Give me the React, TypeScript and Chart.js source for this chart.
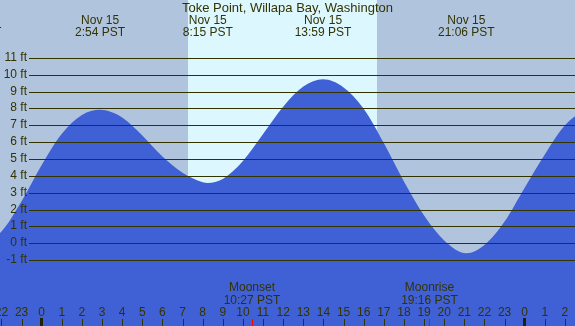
import React, { useEffect, useRef } from "react";
import { Chart, registerables } from "chart.js";

Chart.register(...registerables);

const TITLE = "Toke Point, Willapa Bay, Washington";

// tide curve samples (hours from midnight Nov 15, feet)
const tideHours = [-4, -3.4, -3, -2, -1, 0, 1, 2, 2.9, 4, 5, 6, 7, 8, 8.25, 9, 10, 11, 12, 13, 13.98, 15, 16, 17, 18, 19, 20, 21.1, 22, 23, 24, 25, 26, 27, 27.8, 29];
const tideFeet = [-0.1, -0.3, -0.15, 0.7, 2.5, 4.65, 6.5, 7.62, 7.93, 7.47, 6.4, 5.15, 4.19, 3.63, 3.58, 3.82, 4.88, 6.48, 8.1, 9.3, 9.73, 9.25, 7.98, 5.95, 3.67, 1.65, 0.17, -0.59, -0.1, 1.29, 3.3, 5.27, 7.0, 7.9, 8.1, 7.6];

// high / low tide labels
const eventHours = [-3.42, 2.9, 8.25, 13.98, 21.1, 27.8];
const eventDates = ["Nov 14", "Nov 15", "Nov 15", "Nov 15", "Nov 15", "Nov 16"];
const eventTimes = ["20:35 PST", "2:54 PST", "8:15 PST", "13:59 PST", "21:06 PST", "3:48 PST"];

// moon events
const moonHours = [10.45, 19.27];
const moonNames = ["Moonset", "Moonrise"];
const moonTimes = ["10:27 PST", "19:16 PST"];

// daylight
const sunriseHour = 7.27;
const sunsetHour = 16.66;

// axes
const feetTicks = [-1, 0, 1, 2, 3, 4, 5, 6, 7, 8, 9, 10, 11];
const hourTicks = [-2, -1, 0, 1, 2, 3, 4, 5, 6, 7, 8, 9, 10, 11, 12, 13, 14, 15, 16, 17, 18, 19, 20, 21, 22, 23, 24, 25, 26, 27];
const X_MIN = -2.072;
const X_MAX = 26.5;
const Y_MIN = -4.908;
const Y_MAX = 14.439;

const W = 575;
const H = 326;
const FONT = "12px 'Liberation Sans', Arial, sans-serif";
const TITLE_FONT = "13px 'Liberation Sans', Arial, sans-serif";
const TEXT = "#333300";
const NIGHT = "#b0c4de";
const DAY = "#ddf7ff";
const BLUE = "#4060d6";

const decor = {
  id: "decor",
  beforeDraw(chart: any) {
    const ctx = chart.ctx;
    const xs = chart.scales.x;
    ctx.save();
    ctx.fillStyle = NIGHT;
    ctx.fillRect(0, 0, W, H);
    const a = Math.round(xs.getPixelForValue(sunriseHour));
    const b = Math.round(xs.getPixelForValue(sunsetHour));
    ctx.fillStyle = DAY;
    ctx.fillRect(a, 0, b - a, H);
    ctx.restore();
  },
  afterDatasetsDraw(chart: any) {
    const ctx = chart.ctx;
    const ys = chart.scales.y;
    ctx.save();
    ctx.strokeStyle = TEXT;
    ctx.lineWidth = 1;
    ctx.font = FONT;
    ctx.fillStyle = TEXT;
    ctx.textAlign = "right";
    ctx.textBaseline = "middle";
    feetTicks.forEach((v) => {
      const y = Math.round(ys.getPixelForValue(v)) + 0.5;
      ctx.beginPath();
      ctx.moveTo(29, y);
      ctx.lineTo(W, y);
      ctx.stroke();
      ctx.fillText(v + " ft", 27, y - 1);
    });
    ctx.restore();
  },
  afterDraw(chart: any) {
    const ctx = chart.ctx;
    const xs = chart.scales.x;
    ctx.save();
    ctx.fillStyle = TEXT;
    ctx.textAlign = "center";
    ctx.textBaseline = "alphabetic";
    ctx.font = TITLE_FONT;
    ctx.fillText(TITLE, W / 2, 12);
    ctx.font = FONT;
    eventHours.forEach((h, i) => {
      const x = xs.getPixelForValue(h);
      ctx.fillText(eventDates[i], x, 24);
      ctx.fillText(eventTimes[i], x, 36);
    });
    moonHours.forEach((h, i) => {
      const x = xs.getPixelForValue(h);
      ctx.fillText(moonNames[i], x, 291);
      ctx.fillText(moonTimes[i], x, 304);
    });
    hourTicks.forEach((h) => {
      const x = xs.getPixelForValue(h);
      const lab = String(((h % 24) + 24) % 24);
      ctx.fillStyle = TEXT;
      ctx.fillText(lab, x, 316);
      if (h % 24 === 0) {
        ctx.fillStyle = "#222200";
        ctx.fillRect(Math.round(x) - 2, 318, 3, 8);
      } else {
        ctx.fillStyle = TEXT;
        ctx.fillRect(Math.round(x), 319, 1, 7);
      }
    });
    moonHours.forEach((h) => {
      const x = xs.getPixelForValue(h);
      ctx.fillStyle = "#ff0000";
      ctx.fillRect(Math.round(x), 319, 1, 7);
    });
    ctx.restore();
  },
};

export default function App() {
  const ref = useRef<HTMLCanvasElement | null>(null);
  useEffect(() => {
    document.body.style.margin = "0";
    const canvas = ref.current!;
    const chart = new Chart(canvas, {
      type: "line",
      data: {
        datasets: [
          {
            data: tideHours.map((h, i) => ({ x: h, y: tideFeet[i] })),
            borderWidth: 0,
            borderColor: BLUE,
            backgroundColor: BLUE,
            fill: "start",
            pointRadius: 0,
            cubicInterpolationMode: "monotone",
          },
        ],
      },
      options: {
        responsive: false,
        animation: false,
        devicePixelRatio: 1,
        layout: { padding: 0 },
        plugins: { legend: { display: false }, tooltip: { enabled: false }, title: { display: false } },
        scales: {
          x: { type: "linear", min: X_MIN, max: X_MAX, display: false },
          y: { type: "linear", min: Y_MIN, max: Y_MAX, display: false },
        },
      },
      plugins: [decor],
    });
    return () => chart.destroy();
  }, []);
  return (
    <div style={{ position: "fixed", left: 0, top: 0, width: W, height: H }}>
      <canvas ref={ref} width={W} height={H} style={{ display: "block", width: W, height: H }} />
    </div>
  );
}
